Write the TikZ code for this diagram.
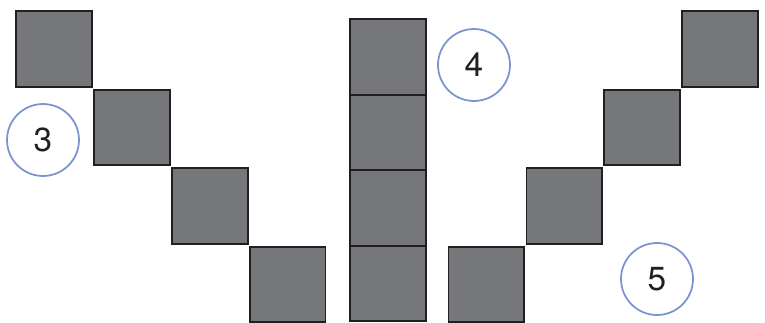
\documentclass[tikz,border=0pt]{standalone}
\usepackage{fontspec}
\setmainfont{TeX Gyre Heros}
\usetikzlibrary{positioning}
\definecolor{blockgray}{HTML}{76777B}
\definecolor{edgeblack}{HTML}{231F20}
\definecolor{ringblue}{HTML}{7B93D0}

\begin{document}
\begin{tikzpicture}[
    x=0.02cm, y=-0.02cm,
    node distance=0.06cm and 0.05cm,
    block/.style={rectangle, draw=edgeblack, fill=blockgray, line width=0.9pt, minimum size=1.51cm, inner sep=0pt, outer sep=0pt},
    num/.style={circle, draw=ringblue, line width=1pt, minimum size=1.44cm, inner sep=0pt, text=edgeblack, font=\fontsize{19}{20}\selectfont}
]
    \path[use as bounding box, clip] (0,0) rectangle (765,322);

    % left staircase
    \node[block] (left1) at (54,49) {};
    \node[block, below right=of left1.south east, anchor=north west] (left2) {};
    \node[block, below right=of left2.south east, anchor=north west] (left3) {};
    \node[block, below right=of left3.south east, anchor=north west] (left4) {};

    % middle column
    \node[block] (mid1) at (388,57) {};
    \node[block, below=0pt of mid1] (mid2) {};
    \node[block, below=0pt of mid2] (mid3) {};
    \node[block, below=0pt of mid3] (mid4) {};

    % right staircase
    \node[block] (right1) at (720,49) {};
    \node[block, below left=of right1.south west, anchor=north east] (right2) {};
    \node[block, below left=of right2.south west, anchor=north east] (right3) {};
    \node[block, below left=of right3.south west, anchor=north east] (right4) {};

    % labels
    \node[num] (three) at (43,140) {3};
    \node[num] (four) at (474,65) {4};
    \node[num] (five) at (657,279) {5};
\end{tikzpicture}
\end{document}
